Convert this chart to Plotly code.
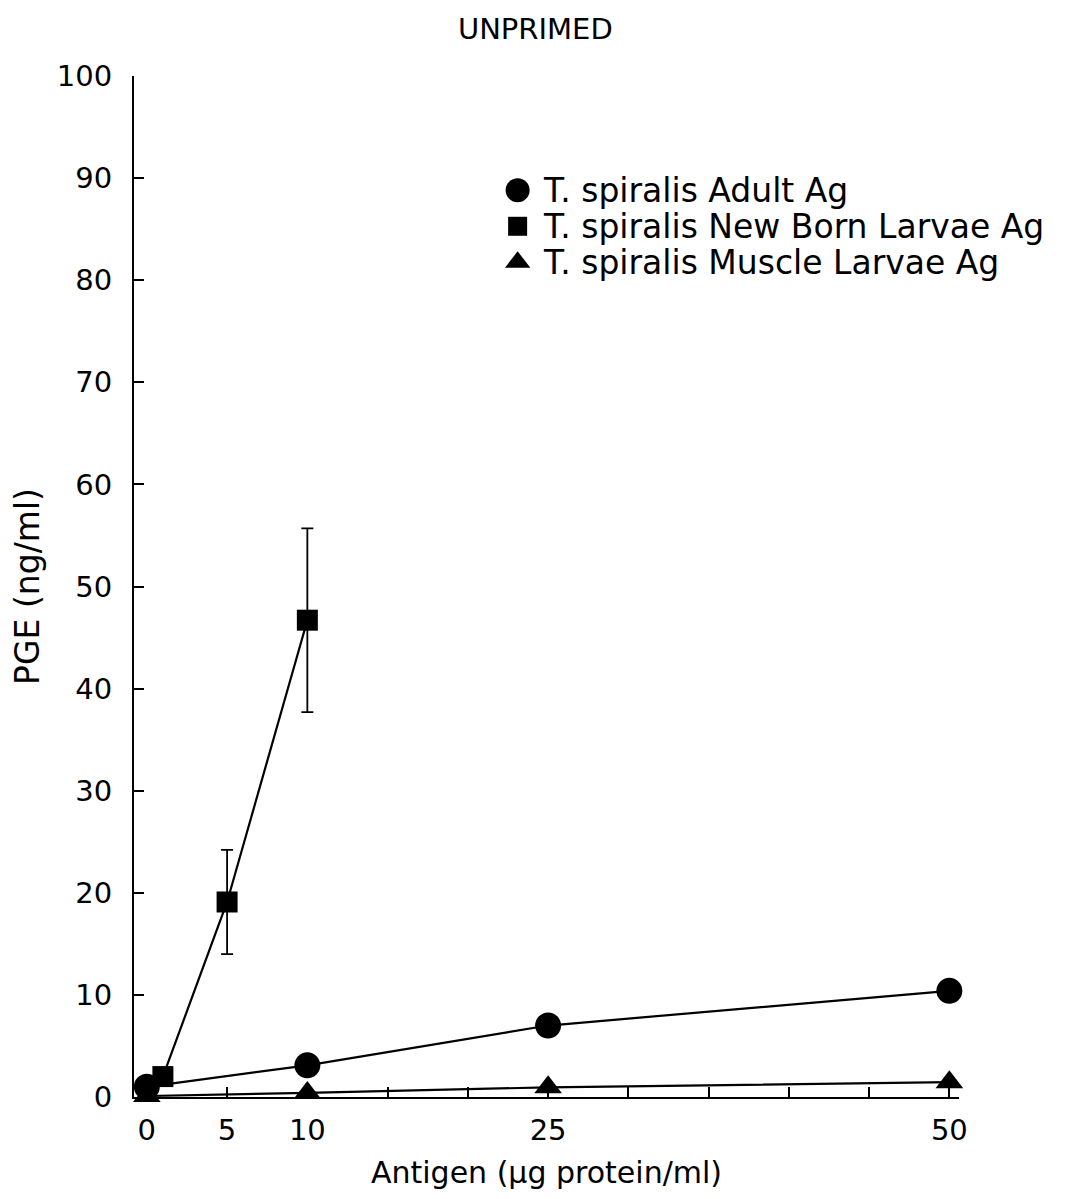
import plotly.graph_objects as go

# ---- data ----
adult_x = [0, 10, 25, 50]
adult_y = [1.0, 3.1, 7.0, 10.4]

nbl_x = [1, 5, 10]
nbl_y = [2.0, 19.1, 46.7]
nbl_err = [0, 5.1, 9.0]

muscle_x = [0, 10, 25, 50]
muscle_y = [0.1, 0.4, 0.95, 1.45]

series_names = ["T. spiralis Adult Ag",
                "T. spiralis New Born Larvae Ag",
                "T. spiralis Muscle Larvae Ag"]
series_symbols = ["circle", "square", "triangle-up"]
series_sizes = [26, 21, 24]

x_tickvals = [0, 5, 10, 25, 50]
y_tickvals = list(range(0, 101, 10))

FONT = "DejaVu Sans"

fig = go.Figure()

fig.add_trace(go.Scatter(x=adult_x, y=adult_y, mode="lines+markers", cliponaxis=False,
                         line=dict(color="black", width=2.2),
                         marker=dict(symbol="circle", size=series_sizes[0], color="black"),
                         showlegend=False))
fig.add_trace(go.Scatter(x=nbl_x, y=nbl_y, mode="lines+markers", cliponaxis=False,
                         line=dict(color="black", width=2.2),
                         marker=dict(symbol="square", size=series_sizes[1], color="black"),
                         error_y=dict(type="data", array=nbl_err, color="black",
                                      thickness=1.8, width=6),
                         showlegend=False))
fig.add_trace(go.Scatter(x=muscle_x, y=muscle_y, mode="lines+markers", cliponaxis=False,
                         line=dict(color="black", width=2.2),
                         marker=dict(symbol="triangle-up", size=series_sizes[2], color="black"),
                         showlegend=False))

# ---- custom legend (large symbols) on a hidden overlay axis ----
leg_x = 0.465
leg_y0 = 0.888
leg_dy = 0.0352
for i, (name, sym, sz) in enumerate(zip(series_names, series_symbols, series_sizes)):
    yy = leg_y0 - i * leg_dy
    fig.add_trace(go.Scatter(x=[leg_x], y=[yy], mode="markers", xaxis="x2", yaxis="y2",
                             marker=dict(symbol=sym, size=sz - 2, color="black"),
                             showlegend=False, hoverinfo="skip"))
    fig.add_annotation(x=leg_x + 0.028, y=yy, xref="paper", yref="paper",
                       text=name, showarrow=False, xanchor="left", yanchor="middle",
                       font=dict(family=FONT, size=33, color="black"))

fig.update_layout(
    width=1074, height=1199,
    margin=dict(l=126, r=123, t=68, b=110),
    paper_bgcolor="white", plot_bgcolor="white",
    font=dict(family=FONT, color="black"),
    title=dict(text="UNPRIMED", x=0.491, xanchor="center", y=0.983, yanchor="middle",
               font=dict(family=FONT, size=29, color="black")),
    xaxis=dict(range=[-0.8, 50.6], tickvals=x_tickvals, ticks="inside", ticklen=10,
               tickwidth=1.5, tickcolor="black", showline=True, linewidth=2, linecolor="black",
               showgrid=False, zeroline=False, ticklabelstandoff=6,
               tickfont=dict(family=FONT, size=29, color="black"),
               minor=dict(dtick=5, tick0=0, ticks="inside", ticklen=10, tickwidth=1.5,
                          tickcolor="black", showgrid=False),
               title=dict(text="Antigen (\u03bcg protein/ml)", standoff=16,
                          font=dict(family=FONT, size=30, color="black"))),
    yaxis=dict(range=[0, 100], tickvals=y_tickvals, ticks="inside", ticklen=10,
               tickwidth=1.5, tickcolor="black", showline=True, linewidth=2, linecolor="black",
               showgrid=False, zeroline=False, ticklabelstandoff=14,
               tickfont=dict(family=FONT, size=29, color="black"),
               title=dict(text="PGE (ng/ml)", standoff=14,
                          font=dict(family=FONT, size=33, color="black"))),
    xaxis2=dict(overlaying="x", range=[0, 1], visible=False),
    yaxis2=dict(overlaying="y", range=[0, 1], visible=False),
)

fig.write_html("out.html")
